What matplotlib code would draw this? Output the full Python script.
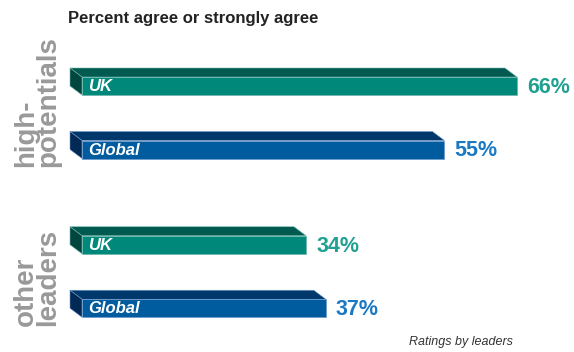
import matplotlib.pyplot as plt
from matplotlib.patches import Polygon

# data
groups = ["high-\npotentials", "other\nleaders"]
bar_labels = ["UK", "Global", "UK", "Global"]
values = [66, 55, 34, 37]
positions = [0, 1, 2.5, 3.5]
group_pos = [1, 3.5]

W, H = 574, 352
PX_X = 6.59      # pixels per percent
PX_Y = 63.5      # pixels per row unit
X0, Y0 = 82, 86  # pixel of x=0 / first row centre

front = {"UK": "#00897a", "Global": "#005b9f"}
top = {"UK": "#005a50", "Global": "#00386b"}
side = {"UK": "#00463f", "Global": "#002a55"}
edge = {"UK": "#6fb8ae", "Global": "#6f9ccc"}
txt = {"UK": "#1fa091", "Global": "#1b79c4"}

plt.rcParams['font.family'] = ['Liberation Sans', 'DejaVu Sans']

fig = plt.figure(figsize=(W / 100, H / 100), dpi=100)
ax = fig.add_axes([0, 0, 1, 1])
ax.set_xlim(-X0 / PX_X, (W - X0) / PX_X)
ax.set_ylim((H - Y0) / PX_Y, -Y0 / PX_Y)
ax.axis("off")

bh = 18 / PX_Y
dx = -12 / PX_X
dy = -9 / PX_Y

for y, v, lab in zip(positions, values, bar_labels):
    y_top = y - bh / 2
    y_bot = y + bh / 2
    ax.barh(y, v, height=bh, color=front[lab], edgecolor=edge[lab], linewidth=0.6, zorder=3)
    # top face and left side of the 3d bar
    ax.add_patch(Polygon([(dx, y_top + dy), (v + dx, y_top + dy), (v, y_top), (0, y_top)],
                         closed=True, facecolor=top[lab], edgecolor=edge[lab], linewidth=0.4, zorder=2))
    ax.add_patch(Polygon([(dx, y_top + dy), (0, y_top), (0, y_bot), (dx, y_bot + dy)],
                         closed=True, facecolor=side[lab], edgecolor=edge[lab], linewidth=0.4, zorder=2))
    ax.text(0.9, y + 0.01, lab, color="white", fontsize=12, fontweight="bold", fontstyle="italic",
            ha="left", va="center", zorder=4)
    ax.text(v + 10 / PX_X, y + 0.02, f"{v}%", color=txt[lab], fontsize=15.5, fontweight="bold",
            ha="left", va="center")

for g, gp in zip(groups, group_pos):
    ax.text(-45 / PX_X, gp + 0.28, g, rotation=90, color="#999999", fontsize=20, fontweight="bold",
            ha="center", va="bottom", multialignment="left", linespacing=0.8)

fig.text(68 / W, 1 - 18 / H, "Percent agree or strongly agree", fontsize=12, fontweight="bold",
         color="#222222", ha="left", va="center")
fig.text(409 / W, 1 - 342 / H, "Ratings by leaders", fontsize=9, fontstyle="italic",
         color="#333333", ha="left", va="center")

fig.savefig("out.png", dpi=100)
